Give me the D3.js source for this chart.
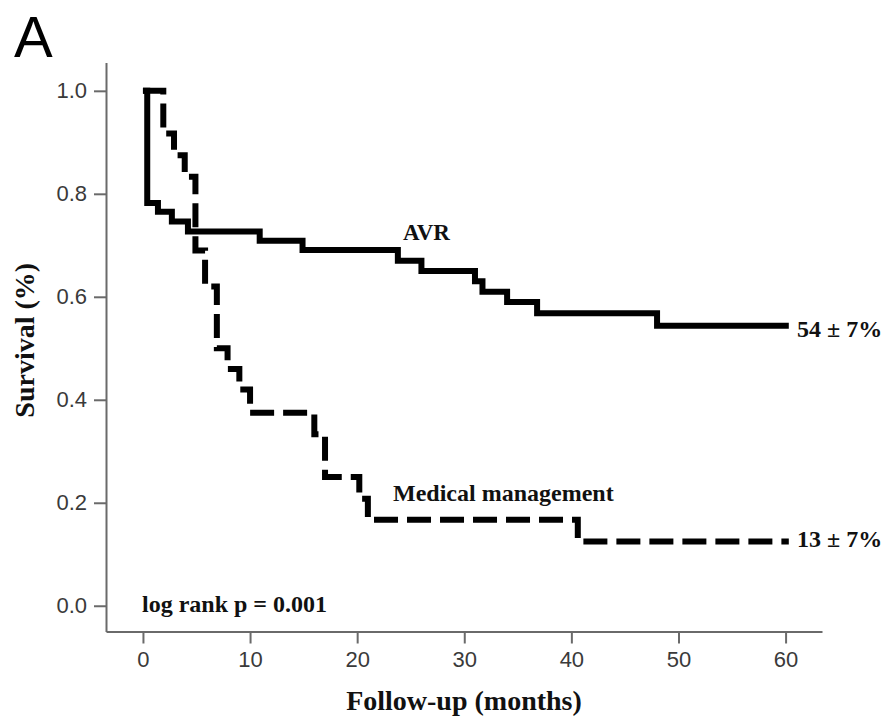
<!DOCTYPE html>
<html>
<head>
<meta charset="utf-8">
<script src="https://cdn.jsdelivr.net/npm/d3@7"></script>
<style>
  body { margin: 0; background: #fff; }
  svg { display: block; }
  .tick text { font-family: "Liberation Sans", Arial, sans-serif; font-size: 22px; fill: #3a3a3a; }
  .tick line, .domain { stroke: #6a6a6a; stroke-width: 2; }
  .serif { font-family: "Liberation Serif", "Times New Roman", serif; font-weight: bold; fill: #111; }
</style>
</head>
<body>
<div id="chart"></div>
<script>
// Kaplan-Meier survival, AVR vs medical management

// AVR (solid) - step times (months) and survival after each step
const avrTimes    = [0, 0.4, 1.4, 2.7, 4.2, 10.9, 14.9, 23.8, 26.0, 31.0, 31.7, 34.0, 36.8, 48.0, 60.3];
const avrSurvival = [1.0, 0.782, 0.765, 0.746, 0.727, 0.709, 0.691, 0.670, 0.650, 0.630, 0.610, 0.590, 0.568, 0.544, 0.544];

// Medical management (dashed)
const medTimes    = [0, 1.9, 2.9, 3.9, 4.9, 5.8, 6.9, 7.9, 9.0, 10.0, 16.0, 17.0, 20.2, 21.0, 40.6, 60.3];
const medSurvival = [1.0, 0.917, 0.875, 0.833, 0.69, 0.62, 0.50, 0.46, 0.42, 0.375, 0.333, 0.25, 0.208, 0.167, 0.125, 0.125];

const xTicks = [0, 10, 20, 30, 40, 50, 60];
const yTicks = [0, 0.2, 0.4, 0.6, 0.8, 1.0];

const width = 884, height = 721;

const svg = d3.select('#chart')
    .append('svg')
    .attr('width', width)
    .attr('height', height);

const x = d3.scaleLinear([-3.45, 63.4], [106, 822]);
const y = d3.scaleLinear([-0.05, 1.055], [631.5, 62.5]);

// axes
svg.append('g')
    .attr('transform', `translate(0, ${y.range()[0]})`)
    .call(d3.axisBottom(x).tickValues(xTicks).tickSize(12).tickSizeOuter(0).tickPadding(8).tickFormat(d3.format('d')));

svg.append('g')
    .attr('transform', `translate(${x.range()[0]}, 0)`)
    .call(d3.axisLeft(y).tickValues(yTicks).tickSize(12).tickSizeOuter(0).tickPadding(7).tickFormat(d3.format('.1f')));

// curves
const line = d3.line()
    .x(d => x(d[0]))
    .y(d => y(d[1]))
    .curve(d3.curveStepAfter);

svg.append('path')
    .datum(d3.zip(avrTimes, avrSurvival))
    .attr('d', line)
    .attr('fill', 'none')
    .attr('stroke', '#000')
    .attr('stroke-width', 6);

svg.append('path')
    .datum(d3.zip(medTimes, medSurvival))
    .attr('d', line)
    .attr('fill', 'none')
    .attr('stroke', '#000')
    .attr('stroke-width', 6)
    .attr('stroke-dasharray', '24,9');

// labels
svg.append('text')
    .attr('x', 14).attr('y', 57)
    .style('font-family', '"Liberation Sans", Arial, sans-serif')
    .style('font-size', '58px')
    .text('A');

svg.append('text')
    .attr('class', 'serif')
    .attr('x', (x.range()[0] + x.range()[1]) / 2 + 0).attr('y', 710)
    .attr('text-anchor', 'middle')
    .style('font-size', '28px')
    .text('Follow-up (months)');

svg.append('text')
    .attr('class', 'serif')
    .attr('transform', `translate(34, ${(y(0) + y(1)) / 2 - 8}) rotate(-90)`)
    .attr('text-anchor', 'middle')
    .style('font-size', '28px')
    .text('Survival (%)');

const notes = [
    ['AVR', 403, 240, 23],
    ['Medical management', 393, 501, 24],
    ['54 \u00b1 7%', 797, 337, 24],
    ['13 \u00b1 7%', 797, 547, 24],
    ['log rank p = 0.001', 142, 612, 24]
];
svg.selectAll('text.note')
    .data(notes)
    .join('text')
    .attr('class', 'note serif')
    .attr('x', d => d[1])
    .attr('y', d => d[2])
    .style('font-size', d => d[3] + 'px')
    .text(d => d[0]);
</script>
</body>
</html>
